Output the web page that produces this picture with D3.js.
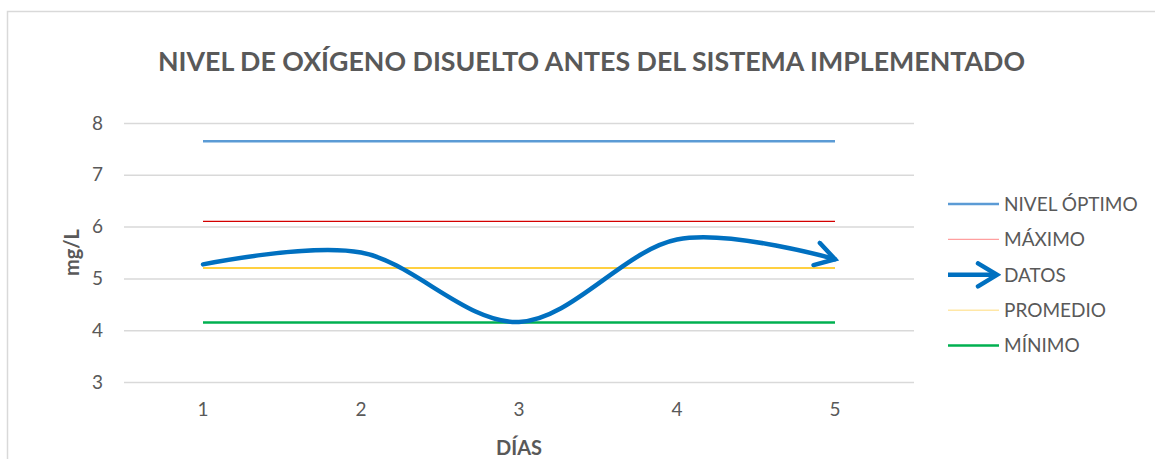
<!DOCTYPE html>
<html>
<head>
<meta charset="utf-8">
<script src="https://cdn.jsdelivr.net/npm/d3@7"></script>
<style>
  html, body { margin: 0; padding: 0; background: #ffffff; }
  svg { display: block; font-family: Lato, "Open Sans", sans-serif; }
</style>
</head>
<body>
<svg id="chart" width="1155" height="459"></svg>
<script>
// Días de medición
const days = ["1", "2", "3", "4", "5"];
// Oxígeno disuelto medido (mg/L)
const datos = [5.27, 5.50, 4.16, 5.75, 5.37];
// Líneas de referencia (mg/L)
const nivelOptimo = [7.65, 7.65, 7.65, 7.65, 7.65];
const maximo = [6.10, 6.10, 6.10, 6.10, 6.10];
const promedio = [5.20, 5.20, 5.20, 5.20, 5.20];
const minimo = [4.15, 4.15, 4.15, 4.15, 4.15];
const yTicks = [3, 4, 5, 6, 7, 8];

const svg = d3.select("#chart");
const textColor = "#595959";

// Chart frame
svg.append("rect")
  .attr("x", 7.5).attr("y", 11.5)
  .attr("width", 1200).attr("height", 500)
  .attr("fill", "#ffffff")
  .attr("stroke", "#d9d9d9").attr("stroke-width", 1.5);

const plot = { left: 124, right: 914, top: 123, bottom: 382 };

const x = d3.scaleBand().domain(days).range([plot.left, plot.right]);
const cx = d => x(d) + x.bandwidth() / 2;
const y = d3.scaleLinear().domain([3, 8]).range([plot.bottom, plot.top]);

// Gridlines and y tick labels
const yAxis = d3.axisLeft(y).tickValues(yTicks).tickFormat(d3.format("d"))
  .tickSize(-(plot.right - plot.left)).tickPadding(21);
const gy = svg.append("g").attr("transform", `translate(${plot.left},0)`).call(yAxis);
gy.select(".domain").remove();
gy.selectAll(".tick line").attr("stroke", "#d9d9d9").attr("stroke-width", 1.5);
gy.selectAll(".tick text")
  .attr("fill", textColor).attr("font-size", 19)
  .attr("font-family", "Lato, sans-serif");

// x tick labels
const xAxis = d3.axisBottom(x).tickSize(0).tickPadding(21);
const gx = svg.append("g").attr("transform", `translate(0,${plot.bottom})`).call(xAxis);
gx.select(".domain").remove();
gx.selectAll(".tick text")
  .attr("fill", textColor).attr("font-size", 19)
  .attr("font-family", "Lato, sans-serif");

// Arrowhead for the DATOS series
const defs = svg.append("defs");
defs.append("marker")
  .attr("id", "arrow")
  .attr("markerUnits", "userSpaceOnUse")
  .attr("viewBox", "-24 -14 28 28")
  .attr("refX", 0).attr("refY", 0)
  .attr("markerWidth", 28).attr("markerHeight", 28)
  .attr("orient", "auto")
  .append("path")
  .attr("d", "M-19,-11.5L0,0L-19,11.5")
  .attr("fill", "none")
  .attr("stroke", "#0070c0")
  .attr("stroke-width", 4.5)
  .attr("stroke-linejoin", "miter")
  .attr("stroke-linecap", "round");

const straight = d3.line().x((v, i) => cx(days[i])).y(v => y(v));
const smooth = d3.line().x((v, i) => cx(days[i])).y(v => y(v)).curve(d3.curveCardinal.tension(0));

const series = [
  { name: "NIVEL ÓPTIMO", values: nivelOptimo, color: "#5b9bd5", width: 2.5, legendColor: "#5b9bd5" },
  { name: "MÁXIMO", values: maximo, color: "#d40000", width: 1.2, legendColor: "#ff9f9f" },
  { name: "DATOS", values: datos, color: "#0070c0", width: 4.5, arrow: true, legendColor: "#0070c0" },
  { name: "PROMEDIO", values: promedio, color: "#ffc000", width: 1.5, legendColor: "#ffe7a6" },
  { name: "MÍNIMO", values: minimo, color: "#00b050", width: 2.5, legendColor: "#00b050" }
];

// Reference lines first, data curve on top
series.filter(s => !s.arrow).forEach(s => {
  svg.append("path")
    .attr("d", straight(s.values))
    .attr("fill", "none")
    .attr("stroke", s.color)
    .attr("stroke-width", s.width);
});
series.filter(s => s.arrow).forEach(s => {
  svg.append("path")
    .attr("d", smooth(s.values))
    .attr("fill", "none")
    .attr("stroke", s.color)
    .attr("stroke-width", s.width)
    .attr("stroke-linecap", "round")
    .attr("marker-end", "url(#arrow)");
});

// Legend
const legend = svg.append("g");
series.forEach((s, i) => {
  const ly = 204 + i * 35.4;
  const line = legend.append("line")
    .attr("x1", 948).attr("x2", 999)
    .attr("y1", ly).attr("y2", ly)
    .attr("stroke", s.legendColor)
    .attr("stroke-width", s.width);
  if (s.arrow) line.attr("marker-end", "url(#arrow)").attr("x2", 997);
  legend.append("text")
    .attr("x", 1004).attr("y", ly)
    .attr("dy", "0.36em")
    .attr("fill", textColor)
    .attr("font-size", 19)
    .text(s.name);
});

// Title
svg.append("text")
  .attr("x", 591.5).attr("y", 71)
  .attr("text-anchor", "middle")
  .attr("fill", textColor)
  .attr("font-size", 26)
  .attr("font-weight", "bold")
  .attr("textLength", 867)
  .attr("lengthAdjust", "spacingAndGlyphs")
  .text("NIVEL DE OXÍGENO DISUELTO ANTES DEL SISTEMA IMPLEMENTADO");

// Axis titles
svg.append("text")
  .attr("transform", `translate(79,${(plot.top + plot.bottom) / 2}) rotate(-90)`)
  .attr("text-anchor", "middle")
  .attr("fill", textColor)
  .attr("font-size", 20)
  .attr("font-weight", "bold")
  .text("mg/L");

svg.append("text")
  .attr("x", cx("3")).attr("y", 455)
  .attr("text-anchor", "middle")
  .attr("fill", textColor)
  .attr("font-size", 20)
  .attr("font-weight", "bold")
  .text("DÍAS");
</script>
</body>
</html>
